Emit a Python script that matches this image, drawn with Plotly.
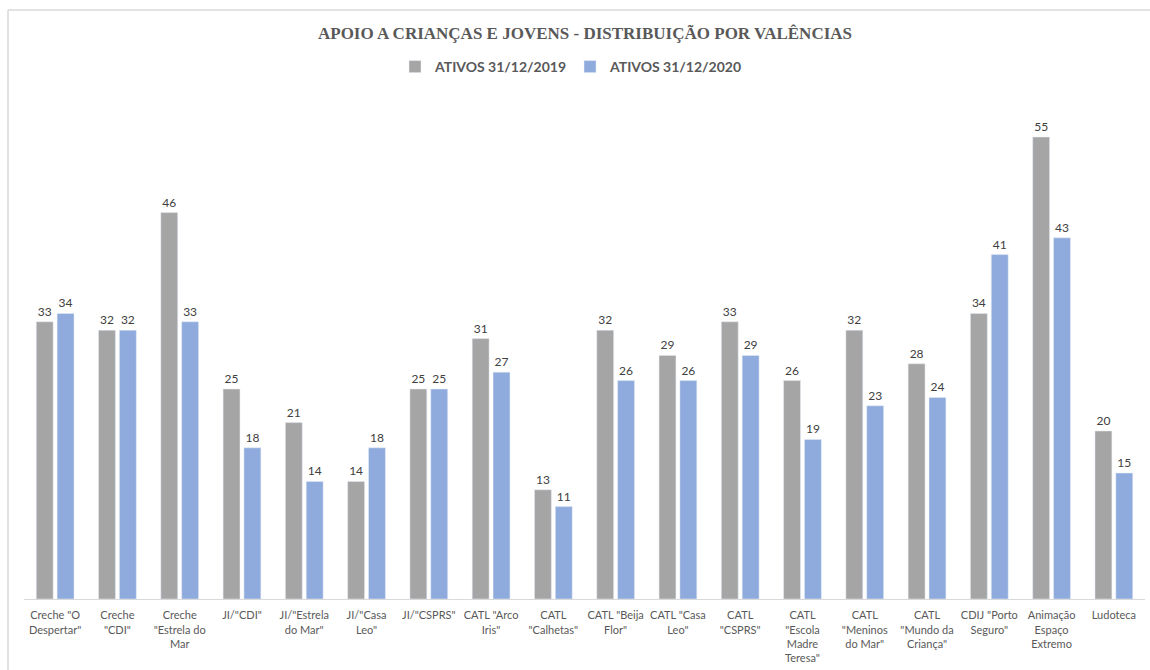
import plotly.graph_objects as go

categories = [
    'Creche "O<br>Despertar"', 'Creche<br>"CDI"', 'Creche<br>"Estrela do<br>Mar', 'JI/"CDI"',
    'JI/"Estrela<br>do Mar"', 'JI/"Casa<br>Leo"', 'JI/"CSPRS"', 'CATL "Arco<br>Iris"',
    'CATL<br>"Calhetas"', 'CATL "Beija<br>Flor"', 'CATL "Casa<br>Leo"', 'CATL<br>"CSPRS"',
    'CATL<br>"Escola<br>Madre<br>Teresa"', 'CATL<br>"Meninos<br>do Mar"', 'CATL<br>"Mundo da<br>Criança"',
    'CDIJ "Porto<br>Seguro"', 'Animação<br>Espaço<br>Extremo', 'Ludoteca'
]
ativos_2019 = [33, 32, 46, 25, 21, 14, 25, 31, 13, 32, 29, 33, 26, 32, 28, 34, 55, 20]
ativos_2020 = [34, 32, 33, 18, 14, 18, 25, 27, 11, 26, 26, 29, 19, 23, 24, 41, 43, 15]
series_names = ["ATIVOS 31/12/2019", "ATIVOS 31/12/2020"]

FONT = "Lato"
fig = go.Figure()
fig.add_trace(go.Bar(
    x=categories, y=ativos_2019, name=series_names[0], marker_color="#A5A5A5",
    text=ativos_2019, textposition="outside", cliponaxis=False,
    textfont=dict(family=FONT, size=12, color="#404040"),
))
fig.add_trace(go.Bar(
    x=categories, y=ativos_2020, name=series_names[1], marker_color="#8FAADC",
    text=ativos_2020, textposition="outside", cliponaxis=False,
    textfont=dict(family=FONT, size=12, color="#404040"),
))

L, R, T, B = 24, 5, 95, 71
W, H = 1150, 670
ph = H - T - B
pw = W - L - R

fig.update_layout(
    width=W, height=H,
    margin=dict(l=L, r=R, t=T, b=B),
    paper_bgcolor="white", plot_bgcolor="white",
    barmode="group", bargap=0.33, bargroupgap=0.19,
    title=dict(
        text="<b>APOIO A CRIANÇAS E JOVENS - DISTRIBUIÇÃO POR VALÊNCIAS</b>",
        x=585 / W, xanchor="center", xref="container",
        y=1 - 33 / H, yanchor="middle", yref="container",
        font=dict(family="Liberation Serif", size=17, color="#595959"),
    ),
    legend=dict(
        orientation="h", x=395 / W, xanchor="left", xref="container",
        y=1 - 67 / H, yanchor="middle", yref="container",
        font=dict(family=FONT, size=14, color="#595959", weight="bold"),
        itemwidth=30, entrywidth=130, traceorder="normal",
    ),
    xaxis=dict(
        showline=True, linecolor="#D9D9D9", linewidth=1, ticks="",
        tickfont=dict(family=FONT, size=11, color="#595959"),
        tickangle=0, showgrid=False, fixedrange=True, ticklabelstandoff=6,
    ),
    yaxis=dict(range=[0, 60], visible=False, showgrid=False, fixedrange=True),
    showlegend=True,
)

# chart frame (top and left edges visible)
fig.add_shape(type="line", xref="paper", yref="paper",
              x0=(8 - L) / pw, x1=(W + 5 - L) / pw, y0=(H - B - 10) / ph, y1=(H - B - 10) / ph,
              line=dict(color="#D9D9D9", width=1.5))
fig.add_shape(type="line", xref="paper", yref="paper",
              x0=(8 - L) / pw, x1=(8 - L) / pw, y0=(H - B - 10) / ph, y1=-(B + 5) / ph,
              line=dict(color="#D9D9D9", width=1.5))

fig.write_html("out.html")
